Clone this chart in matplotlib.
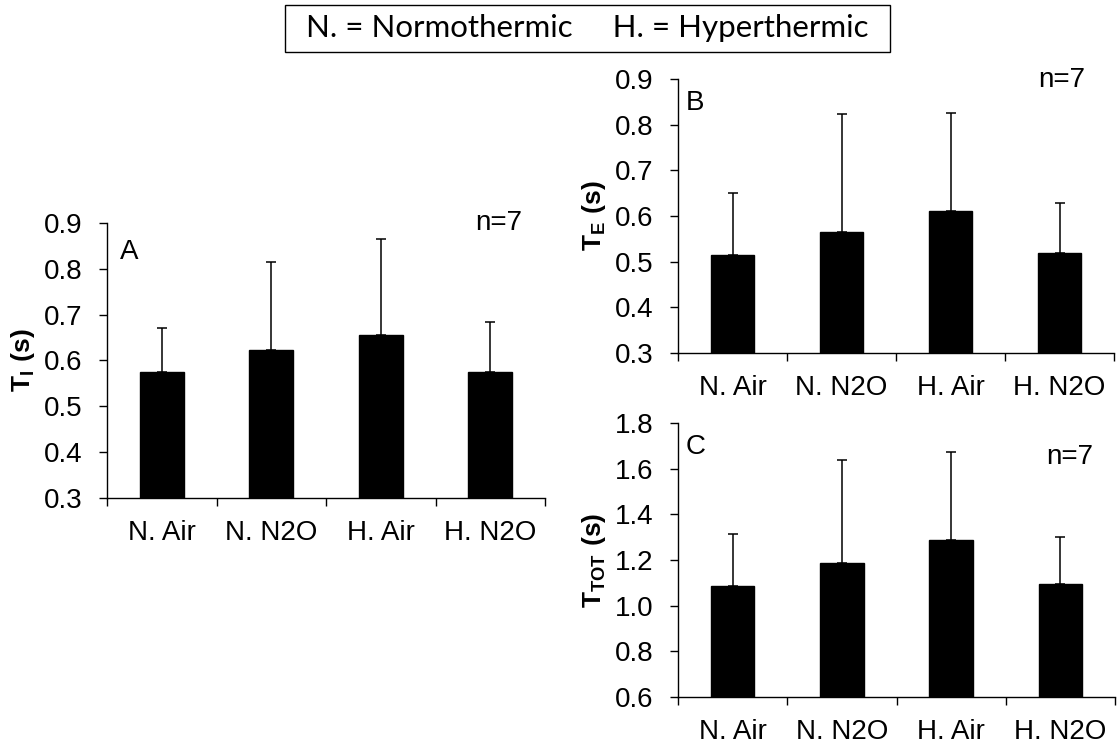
import numpy as np
import matplotlib
matplotlib.use('Agg')
import matplotlib.pyplot as plt
from matplotlib.patches import Rectangle
from matplotlib.ticker import FormatStrFormatter, FixedLocator

plt.rcParams['font.family'] = ['Liberation Sans', 'DejaVu Sans']
plt.rcParams['mathtext.fontset'] = 'custom'
plt.rcParams['mathtext.rm'] = 'Liberation Sans'
plt.rcParams['mathtext.bf'] = 'Liberation Sans:bold'

# Data
groups = ['N. Air', 'N. N2O', 'H. Air', 'H. N2O']

ti_mean = [0.575, 0.623, 0.656, 0.575]
ti_sd = [0.097, 0.193, 0.210, 0.108]

te_mean = [0.514, 0.564, 0.611, 0.519]
te_sd = [0.137, 0.260, 0.214, 0.110]

ttot_mean = [1.085, 1.187, 1.286, 1.095]
ttot_sd = [0.230, 0.449, 0.387, 0.207]

W, H = 1119, 746
fig = plt.figure(figsize=(W / 100, H / 100), dpi=100)


def panel(rect, means, sds, ylim, step, ylabel, letter, letter_xy, n_xy):
    ax = fig.add_axes(rect)
    x = np.arange(len(groups))
    ax.bar(x, means, width=0.4, color='black', edgecolor='black')
    ax.errorbar(x, means, yerr=[np.zeros(len(sds)), sds], fmt='none',
                ecolor='black', elinewidth=1.1, capsize=3.5, capthick=1.1)
    ax.set_xlim(-0.5, len(groups) - 0.5)
    ax.set_ylim(*ylim)
    ax.set_yticks(np.arange(ylim[0], ylim[1] + step / 2, step))
    ax.yaxis.set_major_formatter(FormatStrFormatter('%.1f'))
    ax.set_xticks(x)
    ax.set_xticklabels(groups)
    ax.xaxis.set_minor_locator(FixedLocator(np.arange(-0.5, len(groups), 1.0)))
    ax.tick_params(axis='x', which='major', length=0, pad=15.5, labelsize=20)
    ax.tick_params(axis='x', which='minor', length=5.5, width=1, direction='out')
    ax.tick_params(axis='y', length=5.8, width=1, pad=12, labelsize=20)
    for s in ['top', 'right']:
        ax.spines[s].set_visible(False)
    for s in ['left', 'bottom']:
        ax.spines[s].set_linewidth(1)
    ax.set_ylabel(ylabel, fontsize=19)
    ax.yaxis.set_label_coords(-0.16, 0.5)
    ax.text(letter_xy[0], letter_xy[1], letter, transform=ax.transAxes,
            fontsize=20, ha='left', va='center')
    ax.text(n_xy[0], n_xy[1], 'n=7', transform=ax.transAxes,
            fontsize=20, ha='right', va='center')
    return ax


panel([107 / W, (H - 498) / H, 438 / W, 275 / H], ti_mean, ti_sd, (0.3, 0.9), 0.1,
      r'$\mathbf{T_{I}\ (s)}$', 'A', (0.03, 0.895), (0.947, 1.0))
panel([678 / W, (H - 353) / H, 436 / W, 274 / H], te_mean, te_sd, (0.3, 0.9), 0.1,
      r'$\mathbf{T_{E}\ (s)}$', 'B', (0.018, 0.912), (0.933, 0.996))
panel([678 / W, (H - 697) / H, 437 / W, 274 / H], ttot_mean, ttot_sd, (0.6, 1.8), 0.2,
      r'$\mathbf{T_{TOT}\ (s)}$', 'C', (0.018, 0.912), (0.95, 0.876))

# key box at the top
fig.patches.append(Rectangle((285 / W, (H - 52) / H), 605 / W, 47 / H,
                             transform=fig.transFigure, fill=False,
                             edgecolor='black', linewidth=1))
fig.text(587 / W, (H - 28) / H, 'N. = Normothermic     H. = Hyperthermic',
         family='Lato', fontsize=22.5, ha='center', va='center')

fig.savefig('out.png', dpi=100)
